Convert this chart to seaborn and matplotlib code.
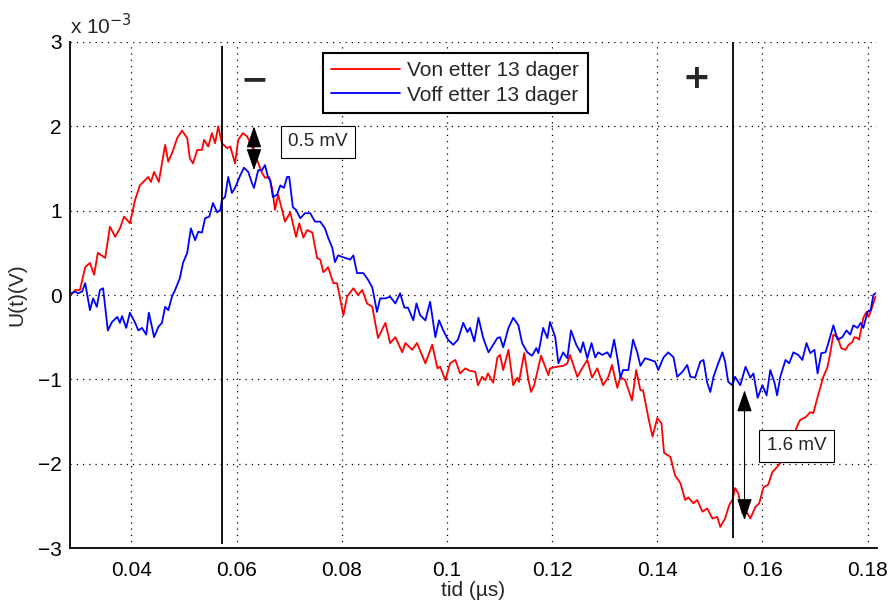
"""Von / Voff etter 13 dager - spenning over tid."""

import matplotlib
matplotlib.use("Agg")
import matplotlib.pyplot as plt
import matplotlib.ticker as mtick
import numpy as np
import pandas as pd
import seaborn as sns

# Data (x in µs, y in units of 1e-3 V)
von_x = [0.0285, 0.0293, 0.0302, 0.0312, 0.0321, 0.0329, 0.0336, 0.0350, 0.0359, 0.0369,
         0.0378, 0.0386, 0.0397, 0.0407, 0.0416, 0.0432, 0.0437, 0.0443, 0.0452, 0.0464,
         0.0470, 0.0477, 0.0487, 0.0496, 0.0506, 0.0511, 0.0517, 0.0525, 0.0534, 0.0538,
         0.0546, 0.0553, 0.0559, 0.0565, 0.0572, 0.0582, 0.0588, 0.0597, 0.0603, 0.0612,
         0.0620, 0.0629, 0.0639, 0.0648, 0.0654, 0.0662, 0.0668, 0.0673, 0.0679, 0.0692,
         0.0702, 0.0713, 0.0719, 0.0727, 0.0734, 0.0744, 0.0753, 0.0759, 0.0765, 0.0774,
         0.0784, 0.0791, 0.0803, 0.0810, 0.0822, 0.0831, 0.0839, 0.0848, 0.0858, 0.0869,
         0.0883, 0.0892, 0.0902, 0.0915, 0.0921, 0.0934, 0.0943, 0.0959, 0.0972, 0.0982,
         0.0987, 0.0997, 0.1006, 0.1016, 0.1025, 0.1035, 0.1044, 0.1054, 0.1059, 0.1067,
         0.1073, 0.1078, 0.1088, 0.1096, 0.1101, 0.1107, 0.1117, 0.1126, 0.1134, 0.1137,
         0.1147, 0.1155, 0.1160, 0.1166, 0.1179, 0.1187, 0.1193, 0.1196, 0.1210, 0.1221,
         0.1229, 0.1234, 0.1248, 0.1257, 0.1267, 0.1276, 0.1286, 0.1297, 0.1307, 0.1314,
         0.1324, 0.1330, 0.1339, 0.1352, 0.1360, 0.1368, 0.1373, 0.1383, 0.1391, 0.1400,
         0.1408, 0.1413, 0.1425, 0.1434, 0.1444, 0.1453, 0.1459, 0.1469, 0.1476, 0.1486,
         0.1495, 0.1505, 0.1514, 0.1520, 0.1529, 0.1537, 0.1543, 0.1548, 0.1554, 0.1562,
         0.1568, 0.1577, 0.1587, 0.1594, 0.1602, 0.1611, 0.1619, 0.1628, 0.1638, 0.1647,
         0.1657, 0.1665, 0.1672, 0.1682, 0.1691, 0.1697, 0.1705, 0.1710, 0.1716, 0.1724,
         0.1729, 0.1735, 0.1743, 0.1750, 0.1758, 0.1764, 0.1771, 0.1775, 0.1781, 0.1784,
         0.1792, 0.1798, 0.1802, 0.1809, 0.1815]
von_y = [0.00, 0.06, 0.06, 0.33, 0.38, 0.24, 0.50, 0.44, 0.81, 0.69,
         0.79, 0.93, 0.85, 1.13, 1.30, 1.40, 1.34, 1.46, 1.34, 1.78,
         1.58, 1.68, 1.86, 1.95, 1.86, 1.62, 1.56, 1.72, 1.72, 1.84,
         1.76, 1.92, 1.80, 2.00, 1.80, 1.74, 1.76, 1.56, 1.84, 1.92,
         1.88, 1.76, 1.60, 1.45, 1.39, 1.40, 1.25, 1.01, 1.19, 0.87,
         0.98, 0.69, 0.85, 0.68, 0.77, 0.74, 0.44, 0.42, 0.27, 0.33,
         0.14, 0.14, -0.24, -0.02, 0.08, 0.00, 0.06, -0.10, -0.14, -0.51,
         -0.33, -0.57, -0.50, -0.68, -0.57, -0.65, -0.57, -0.81, -0.59, -0.87,
         -0.85, -1.01, -0.81, -0.77, -0.93, -0.87, -0.90, -0.91, -1.07, -0.97,
         -1.01, -0.93, -1.04, -0.74, -0.71, -0.89, -0.65, -1.07, -0.98, -1.03,
         -0.69, -1.01, -1.15, -1.07, -0.72, -0.85, -0.95, -0.87, -0.85, -0.84,
         -0.81, -0.71, -0.97, -0.87, -0.77, -0.98, -0.87, -1.07, -0.97, -0.83,
         -1.10, -0.97, -1.01, -1.25, -0.89, -1.13, -1.13, -1.45, -1.68, -1.46,
         -1.52, -1.87, -1.92, -2.14, -2.23, -2.43, -2.40, -2.47, -2.43, -2.57,
         -2.53, -2.65, -2.63, -2.75, -2.65, -2.49, -2.43, -2.29, -2.35, -2.59,
         -2.55, -2.65, -2.51, -2.47, -2.28, -2.25, -2.10, -2.04, -1.96, -1.90,
         -1.76, -1.57, -1.48, -1.45, -1.39, -1.40, -1.21, -1.10, -0.97, -0.85,
         -0.69, -0.47, -0.50, -0.63, -0.65, -0.59, -0.56, -0.50, -0.51, -0.53,
         -0.27, -0.20, -0.26, -0.14, -0.02]

voff_x = [0.0285, 0.0293, 0.0298, 0.0306, 0.0312, 0.0321, 0.0327, 0.0334, 0.0340, 0.0346,
          0.0355, 0.0363, 0.0373, 0.0378, 0.0382, 0.0390, 0.0397, 0.0407, 0.0413, 0.0420,
          0.0428, 0.0433, 0.0439, 0.0443, 0.0451, 0.0458, 0.0464, 0.0470, 0.0477, 0.0483,
          0.0492, 0.0498, 0.0506, 0.0513, 0.0521, 0.0527, 0.0534, 0.0540, 0.0548, 0.0555,
          0.0563, 0.0569, 0.0572, 0.0578, 0.0584, 0.0591, 0.0597, 0.0607, 0.0614, 0.0622,
          0.0629, 0.0633, 0.0641, 0.0648, 0.0654, 0.0660, 0.0664, 0.0669, 0.0677, 0.0683,
          0.0690, 0.0696, 0.0700, 0.0707, 0.0713, 0.0721, 0.0730, 0.0740, 0.0749, 0.0759,
          0.0768, 0.0774, 0.0782, 0.0787, 0.0793, 0.0806, 0.0816, 0.0822, 0.0829, 0.0841,
          0.0850, 0.0858, 0.0867, 0.0873, 0.0883, 0.0892, 0.0902, 0.0911, 0.0919, 0.0926,
          0.0936, 0.0942, 0.0949, 0.0959, 0.0968, 0.0978, 0.0985, 0.0993, 0.1002, 0.1012,
          0.1021, 0.1031, 0.1039, 0.1044, 0.1052, 0.1060, 0.1069, 0.1079, 0.1088, 0.1096,
          0.1101, 0.1107, 0.1117, 0.1126, 0.1136, 0.1143, 0.1153, 0.1162, 0.1170, 0.1174,
          0.1183, 0.1191, 0.1196, 0.1206, 0.1212, 0.1221, 0.1229, 0.1236, 0.1246, 0.1254,
          0.1259, 0.1267, 0.1275, 0.1282, 0.1288, 0.1295, 0.1305, 0.1311, 0.1318, 0.1324,
          0.1330, 0.1335, 0.1345, 0.1354, 0.1362, 0.1368, 0.1377, 0.1387, 0.1396, 0.1402,
          0.1412, 0.1421, 0.1431, 0.1438, 0.1448, 0.1457, 0.1463, 0.1472, 0.1482, 0.1488,
          0.1495, 0.1501, 0.1507, 0.1516, 0.1524, 0.1529, 0.1535, 0.1543, 0.1548, 0.1558,
          0.1568, 0.1577, 0.1583, 0.1591, 0.1600, 0.1608, 0.1615, 0.1623, 0.1628, 0.1634,
          0.1644, 0.1651, 0.1659, 0.1668, 0.1676, 0.1684, 0.1691, 0.1699, 0.1705, 0.1712,
          0.1720, 0.1726, 0.1735, 0.1743, 0.1752, 0.1760, 0.1767, 0.1773, 0.1781, 0.1787,
          0.1792, 0.1800, 0.1806, 0.1811, 0.1815]
voff_y = [0.02, 0.04, 0.02, 0.04, 0.14, -0.18, -0.04, -0.14, 0.06, 0.08,
          -0.42, -0.32, -0.26, -0.33, -0.25, -0.39, -0.21, -0.33, -0.42, -0.39,
          -0.47, -0.21, -0.38, -0.50, -0.38, -0.33, -0.14, -0.18, -0.02, 0.06,
          0.20, 0.38, 0.50, 0.79, 0.65, 0.75, 0.74, 0.91, 0.93, 1.09,
          0.98, 1.01, 1.13, 1.16, 1.40, 1.21, 1.27, 1.42, 1.51, 1.46,
          1.33, 1.27, 1.48, 1.48, 1.54, 1.39, 1.36, 1.16, 1.19, 1.30,
          1.27, 1.40, 1.40, 1.04, 1.01, 0.91, 0.97, 0.97, 0.87, 0.87,
          0.79, 0.68, 0.56, 0.39, 0.47, 0.44, 0.42, 0.47, 0.26, 0.26,
          0.18, 0.09, -0.20, -0.04, -0.04, -0.02, -0.10, 0.02, -0.15, -0.15,
          -0.30, -0.10, -0.24, -0.30, -0.08, -0.50, -0.30, -0.42, -0.53, -0.59,
          -0.53, -0.33, -0.44, -0.39, -0.55, -0.27, -0.51, -0.68, -0.59, -0.51,
          -0.50, -0.62, -0.39, -0.27, -0.36, -0.57, -0.68, -0.72, -0.63, -0.69,
          -0.39, -0.51, -0.32, -0.50, -0.81, -0.68, -0.75, -0.42, -0.59, -0.68,
          -0.56, -0.75, -0.57, -0.74, -0.68, -0.71, -0.68, -0.74, -0.53, -0.74,
          -0.98, -0.89, -0.89, -0.53, -0.68, -0.84, -0.75, -0.77, -0.79, -0.89,
          -0.74, -0.68, -0.74, -0.97, -0.91, -0.83, -0.97, -0.98, -0.79, -0.77,
          -1.04, -1.15, -0.97, -0.81, -0.68, -0.79, -1.03, -1.07, -0.97, -1.07,
          -0.85, -0.98, -0.93, -1.22, -1.07, -1.19, -0.89, -1.04, -1.19, -0.97,
          -0.77, -0.81, -0.68, -0.71, -0.77, -0.57, -0.69, -0.65, -0.93, -0.69,
          -0.68, -0.56, -0.36, -0.53, -0.50, -0.42, -0.47, -0.36, -0.39, -0.33,
          -0.39, -0.20, -0.18, 0.00, 0.02]

series_labels = ["Von etter 13 dager", "Voff etter 13 dager"]
series_colors = ["#ff0000", "#0000ff"]

x_ticks = [0.04, 0.06, 0.08, 0.10, 0.12, 0.14, 0.16, 0.18]
y_ticks = [-3, -2, -1, 0, 1, 2, 3]

marker_x = [0.0572, 0.1545]          # vertical cursor lines
diff_05 = (0.0633, 2.00, 1.48)       # x, top, bottom of the 0.5 mV arrow
diff_16 = (0.1566, -1.13, -2.67)     # x, top, bottom of the 1.6 mV arrow

sns.set_theme(style="white")
plt.rcParams["font.family"] = ["Liberation Sans", "DejaVu Sans"]

df = pd.concat([
    pd.DataFrame({"tid": von_x, "U": von_y, "serie": series_labels[0]}),
    pd.DataFrame({"tid": voff_x, "U": voff_y, "serie": series_labels[1]}),
])

fig = plt.figure(figsize=(8.89, 6.06), dpi=100)
ax = fig.add_axes([0.0787, 0.0957, 0.9078, 0.8350])

sns.lineplot(
    data=df, x="tid", y="U", hue="serie", hue_order=series_labels,
    palette=dict(zip(series_labels, series_colors)),
    sort=False, estimator=None, linewidth=1.3, ax=ax,
)

ax.set_xlim(0.0283, 0.1818)
ax.set_ylim(-3, 3)
ax.set_xticks(x_ticks)
ax.set_yticks(y_ticks)
ax.xaxis.set_major_formatter(mtick.FuncFormatter(lambda v, _: f"{v:g}"))
ax.yaxis.set_major_formatter(mtick.FuncFormatter(lambda v, _: f"{v:g}".replace("-", "\u2212")))
ax.tick_params(direction="in", length=6, width=1.0, color="black", labelsize=15,
               labelcolor="black")
ax.tick_params(axis="x", pad=9)
ax.tick_params(axis="y", pad=6)
ax.grid(True, linestyle=(0, (1, 4)), color="black", linewidth=0.9)
for side in ["top", "right"]:
    ax.spines[side].set_visible(False)
for side in ["left", "bottom"]:
    ax.spines[side].set_color("black")
    ax.spines[side].set_linewidth(1.3)

ax.set_xlabel("tid (\u00b5s)", fontsize=15, labelpad=1)
ax.set_ylabel("U(t)(V)", fontsize=15, labelpad=8)
ax.text(0.0, 1.008, "x 10$^{-3}$", transform=ax.transAxes, fontsize=15,
        ha="left", va="bottom")

# Cursor lines and sign marks
ax.vlines(marker_x[0], -2.95, 2.95, color="black", linewidth=1.3)
ax.vlines(marker_x[1], -2.88, 3.0, color="black", linewidth=1.3)
ax.text(0.0634, 2.55, "\u2212", fontsize=24, fontweight="bold", ha="center",
        va="center", family="DejaVu Sans")
ax.text(0.1475, 2.57, "+", fontsize=24, fontweight="bold", ha="center",
        va="center", family="DejaVu Sans")

# Difference arrows with boxed labels
arrow_kw = dict(arrowstyle="<|-|>,head_length=0.75,head_width=0.26", color="black",
                lw=0.8, mutation_scale=18, shrinkA=0, shrinkB=0)
ax.annotate("", xy=(diff_05[0], diff_05[1]), xytext=(diff_05[0], diff_05[2]),
            arrowprops=arrow_kw)
ax.annotate("", xy=(diff_16[0], diff_16[1]), xytext=(diff_16[0], diff_16[2]),
            arrowprops=arrow_kw)
box_kw = dict(boxstyle="square,pad=0.4", facecolor="white", edgecolor="black",
              linewidth=0.8)
ax.text(0.0755, 1.82, "0.5 mV", fontsize=13.5, ha="center", va="center", bbox=box_kw)
ax.text(0.1665, -1.785, "1.6 mV", fontsize=13.5, ha="center", va="center", bbox=box_kw)

leg = ax.legend(loc="upper left", bbox_to_anchor=(0.3135, 0.978), fontsize=15,
                frameon=True, fancybox=False, handlelength=3.3, handletextpad=0.35,
                borderpad=0.4, labelspacing=0.25, borderaxespad=0)
leg.get_frame().set_edgecolor("black")
leg.get_frame().set_linewidth(1.5)
leg.get_frame().set_alpha(1)
for line in leg.get_lines():
    line.set_linewidth(1.3)

fig.savefig("out.png", dpi=100)
